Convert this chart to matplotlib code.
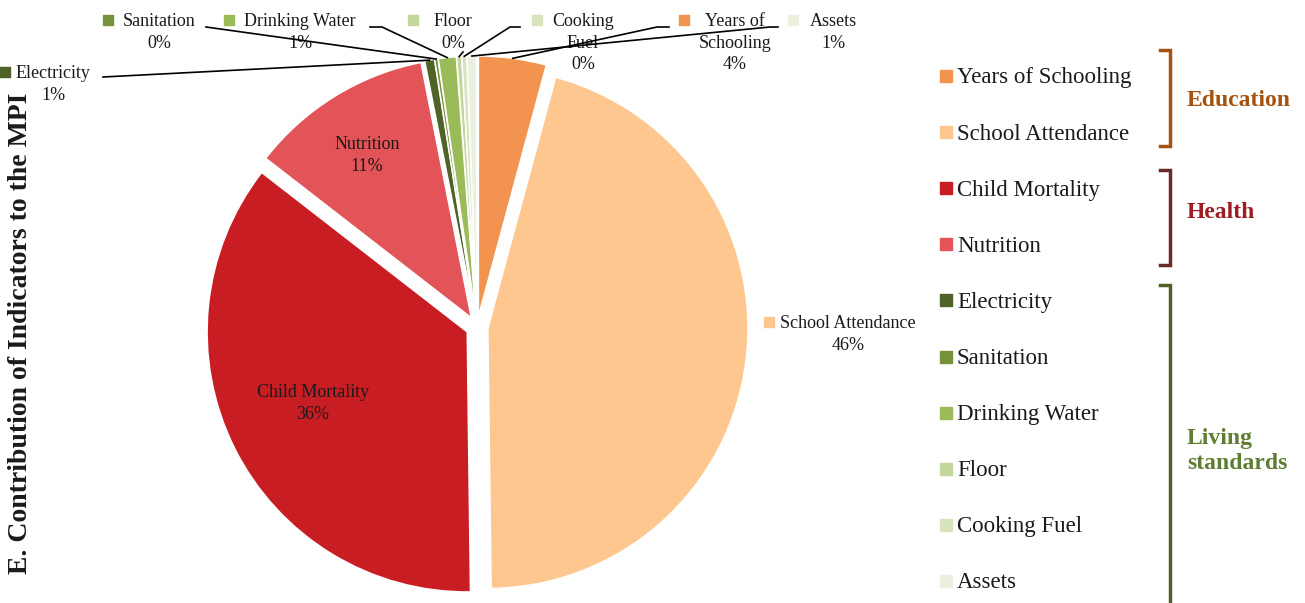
import numpy as np
import matplotlib.pyplot as plt
from matplotlib.patches import Rectangle

plt.rcParams['font.family'] = ['Liberation Serif', 'DejaVu Serif']

W, H = 1305, 603

indicators = ['Years of Schooling', 'School Attendance', 'Child Mortality', 'Nutrition',
              'Electricity', 'Sanitation', 'Drinking Water', 'Floor', 'Cooking Fuel', 'Assets']
shares = [4.2, 45.6, 35.7, 11.4, 0.6, 0.2, 1.1, 0.3, 0.3, 0.6]
colors = ['#F29450', '#FDC78F', '#C91D24', '#E25457',
          '#4F6228', '#76923C', '#9BBB59', '#C3D69B', '#D7E4BD', '#EBF1DE']
pie_names = ['Years of\nSchooling', 'School Attendance', 'Child Mortality', 'Nutrition',
             'Electricity', 'Sanitation', 'Drinking Water', 'Floor', 'Cooking\nFuel', 'Assets']

groups = ['Education', 'Health', 'Living\nstandards']
group_colors = ['#A5520F', '#6B2A2A', '#4F6228']
group_text_colors = ['#A5520F', '#9E1C24', '#5F7D32']

title = 'E. Contribution of Indicators to the MPI'

# layout (pixel positions measured from the top-left corner)
label_pos = {'Electricity': (53, 72), 'Sanitation': (159, 20), 'Drinking Water': (300, 20),
             'Floor': (453, 20), 'Cooking Fuel': (583, 20), 'Years of Schooling': (735, 20),
             'Assets': (833, 20), 'School Attendance': (848, 322),
             'Nutrition': (367, 143), 'Child Mortality': (313, 391)}
key_pos = {'Electricity': (5, 72), 'Sanitation': (108, 20), 'Drinking Water': (229, 20),
           'Floor': (413, 20), 'Cooking Fuel': (537, 20), 'Years of Schooling': (684, 20),
           'Assets': (793, 20), 'School Attendance': (769, 322)}
leader_pts = {'Electricity': [(103, 77)], 'Sanitation': [(206, 27)],
              'Drinking Water': [(370, 27), (382, 27)], 'Floor': [(463, 52)],
              'Cooking Fuel': [(520, 27), (510, 27)], 'Years of Schooling': [(669, 27), (657, 27)],
              'Assets': [(778, 27), (770, 27)]}
bracket_span = [(50, 146), (170, 265), (285, 610)]
group_label_y = [101, 212, 451]


def Y(y):
    return H - y


fig = plt.figure(figsize=(W / 100, H / 100), dpi=100)
ax = fig.add_axes([0, 0, 1, 1])

wedges, _ = ax.pie(shares, colors=colors, startangle=90, counterclock=False,
                   radius=260, center=(477, Y(327)), explode=[11] * len(shares),
                   wedgeprops=dict(edgecolor='white', linewidth=1))
ax.set_xlim(0, W)
ax.set_ylim(0, H)
ax.set_aspect('equal')
ax.axis('off')

for i, name in enumerate(indicators):
    lx, ly = label_pos[name]
    pct = '%.0f%%' % shares[i]
    ax.text(lx, Y(ly - 7), pie_names[i] + '\n' + pct, ha='center', va='top', fontsize=13,
            color='#1a1a1a', linespacing=1.35)
    if name in key_pos:
        kx, ky = key_pos[name]
        ax.scatter([kx], [Y(ky)], marker='s', s=48, color=colors[i], zorder=5, clip_on=False)
    if name in leader_pts:
        w = wedges[i]
        tm = np.deg2rad((w.theta1 + w.theta2) / 2)
        ex = w.center[0] + w.r * np.cos(tm)
        ey = w.center[1] + w.r * np.sin(tm)
        xs = [p[0] for p in leader_pts[name]] + [ex]
        ys = [Y(p[1]) for p in leader_pts[name]] + [ey]
        ax.plot(xs, ys, color='black', lw=1.2, zorder=4)

# legend
for i, name in enumerate(indicators):
    yy = Y(76 + 56.1 * i)
    ax.add_patch(Rectangle((940, yy - 6), 12, 12, color=colors[i]))
    ax.text(957, yy - 2, name, ha='left', va='center', fontsize=16.5, color='#1a1a1a')

# group brackets
for g, (t, b) in enumerate(bracket_span):
    ax.plot([1160, 1170, 1170, 1160], [Y(t), Y(t), Y(b), Y(b)], color=group_colors[g],
            lw=2.5, solid_joinstyle='miter', clip_on=False)
    ax.text(1187, Y(group_label_y[g]), groups[g], ha='left', va='center', fontsize=17,
            fontweight='bold', color=group_text_colors[g], linespacing=1.3)

ax.text(21, Y(333), title, rotation=90, ha='center', va='center', fontsize=20,
        fontweight='bold', color='#1a1a1a')

fig.savefig('out.png', dpi=100)
